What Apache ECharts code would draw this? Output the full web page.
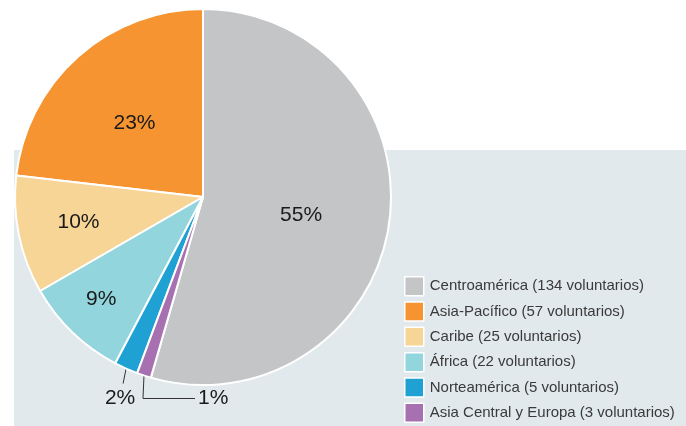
<!DOCTYPE html>
<html>
<head>
<meta charset="utf-8">
<script src="https://cdn.jsdelivr.net/npm/echarts@6/dist/echarts.min.js"></script>
<style>
  html, body { margin: 0; padding: 0; background: #fff; }
  #chart { width: 686px; height: 426px; }
</style>
</head>
<body>
<div id="chart"></div>
<script>
  // data
  const regions = ['Centroamérica', 'Asia-Pacífico', 'Caribe', 'África', 'Norteamérica', 'Asia Central y Europa']
  const volunteers = [134, 57, 25, 22, 5, 3]
  const colors = ['#c4c5c7', '#f69431', '#f6d597', '#92d5dd', '#1fa1d3', '#a770b0']

  // the two thin slices get their label outside the pie
  const outsideIdx = [4, 5]
  // small shifts for the inside labels (px)
  const insideNudge = [[2, 5], [-4, -1.5], [-29.5, 6], [-34.5, 32]]

  const total = volunteers.reduce((a, b) => a + b, 0)
  // first slice ends at 12 o'clock going anticlockwise
  const startAngle = 90 - volunteers[0] / total * 360

  const chart = echarts.init(document.getElementById('chart'), null, { renderer: 'canvas' })

  const pieData = regions.map((name, i) => {
    const item = { name: name, value: volunteers[i] }
    if (outsideIdx.indexOf(i) >= 0) {
      item.label = { position: 'outside' }
      item.labelLine = { show: true, length: 15, length2: 0 }
    }
    return item
  })

  chart.setOption({
    animation: false,
    color: colors,
    graphic: {
      elements: [{
        type: 'rect',
        z: -10,
        silent: true,
        shape: { x: 14, y: 150, width: 672, height: 276 },
        style: { fill: '#e1e9ec' }
      }]
    },
    legend: {
      orient: 'vertical',
      left: 404,
      top: 276,
      height: 170,
      padding: 0,
      itemWidth: 19,
      itemHeight: 19,
      itemGap: 4.8,
      icon: 'rect',
      itemStyle: { borderColor: '#fff', borderWidth: 1.5 },
      textStyle: { fontFamily: 'Liberation Sans, Arial, sans-serif', fontSize: 15, color: '#3a3a3a', padding: [0, 0, 0, 1] },
      formatter: function (name) {
        const v = volunteers[regions.indexOf(name)]
        return name + ' (' + v + ' voluntarios)'
      },
      data: regions
    },
    series: [{
      type: 'pie',
      center: [203, 197],
      radius: 188,
      clockwise: false,
      startAngle: startAngle,
      percentPrecision: 0,
      avoidLabelOverlap: false,
      itemStyle: { borderColor: '#fff', borderWidth: 2 },
      label: {
        show: true,
        position: 'inside',
        formatter: '{d}%',
        fontFamily: 'Liberation Sans, Arial, sans-serif',
        fontSize: 21,
        color: '#1a1a1a'
      },
      labelLine: { show: false, lineStyle: { color: '#333', width: 1 } },
      labelLayout: function (p) {
        const i = p.dataIndex
        if (i < insideNudge.length) {
          return { dx: insideNudge[i][0], dy: insideNudge[i][1] }
        }
        const a = p.labelLinePoints ? p.labelLinePoints[0] : null
        if (!a) return {}
        if (i === 4) {
          const end = [a[0] - 3, a[1] + 15]
          return {
            x: end[0] - 3, y: end[1] + 4,
            align: 'center', verticalAlign: 'top',
            labelLinePoints: [a, end, end]
          }
        }
        const corner = [a[0] - 1, a[1] + 23]
        const end = [corner[0] + 52, corner[1]]
        return {
          x: end[0] + 3, y: end[1],
          align: 'left', verticalAlign: 'middle',
          labelLinePoints: [a, corner, end]
        }
      },
      data: pieData
    }]
  })
</script>
</body>
</html>
